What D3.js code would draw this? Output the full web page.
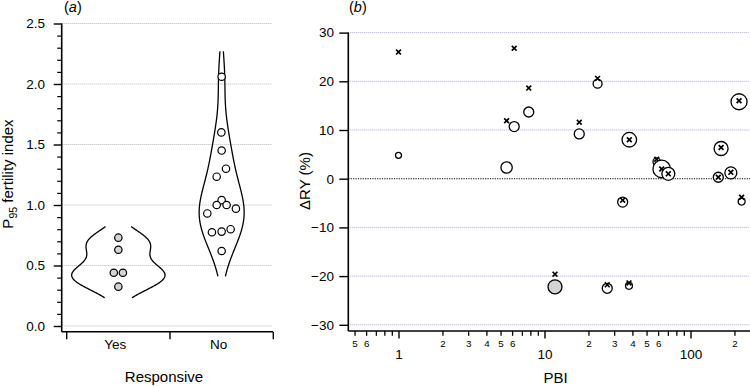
<!DOCTYPE html>
<html><head><meta charset="utf-8">
<script src="https://cdn.jsdelivr.net/npm/d3@7"></script>
<style>
body{margin:0;background:#fff}
svg{display:block}
text{font-family:"Liberation Sans",Arial,Helvetica,sans-serif;fill:#000}
</style>
</head><body><svg id="c" width="750" height="386"></svg>
<script>
// ---------- Panel (a) data ----------
const groups = ["Yes", "No"];
const yesValues = [0.73, 0.63, 0.44, 0.44, 0.325];
const yesJitter = [0, 0, -0.044, 0.044, 0];            // fraction of category width
const noValues = [2.06, 1.60, 1.45, 1.30, 1.234, 1.04, 1.00, 1.00, 0.97, 0.93, 0.80, 0.78, 0.775, 0.62];
const noJitter = [0, -0.003, 0, 0.042, -0.048, 0, -0.048, 0.048, 0.138, -0.139, 0.087, 0, -0.094, 0];
const violinBandwidth = [0.092, 0.21];                 // KDE bandwidth per group
const leftYTicks = [0, 0.5, 1.0, 1.5, 2.0, 2.5];

// ---------- Panel (b) data ----------
const pbi          = [1.0, 5.5, 6.2, 7.8, 11.8, 17.3, 23.1, 26.9, 34.3, 37.9, 38.1, 58.7, 63.5, 70.5, 155, 162, 189, 215, 224];
const dryObserved  = [4.8, 2.3, 10.7, 13.7, -22.2, 9.2, 19.5, -22.5, -4.8, -22.0, 8.0, 3.5, 2.0, 1.0, 0.3, 6.2, 1.2, 15.8, -4.7];
const dryPredicted = [26.0, 11.9, 26.8, 18.6, -19.6, 11.6, 20.6, -21.8, -4.4, -21.4, 8.0, 4.0, 2.0, 1.0, 0.3, 6.4, 1.3, 16.0, -3.8];
const weight       = [9, 32, 25, 25, 49, 25, 20, 25, 25, 12, 53, 14, 77, 42, 25, 49, 36, 64, 12];
const isResponsive = [0, 0, 0, 0, 1, 0, 0, 0, 0, 0, 0, 0, 0, 0, 0, 0, 0, 0, 0];
const rightYTicks = [-30, -20, -10, 0, 10, 20, 30];
const majorX = [1, 10, 100];
const minorX = [0.5, 0.6, 0.7, 0.8, 0.9, 2, 3, 4, 5, 6, 7, 8, 9, 20, 30, 40, 50, 60, 70, 80, 90, 200];
const minorLabelled = [2, 3, 4, 5, 6];

const svg = d3.select("#c");
const FONT = 13.5;

// ================= Panel (a) =================
const aLeft = 61.7, aRight = 273, aBottom = 331.7;
const yA = d3.scaleLinear().domain([0, 2.5]).range([326, 23.5]);
const band = d3.scaleBand().domain(groups).range([66.7, 273.3]);
const bw = band.bandwidth();

// gridlines
svg.append("g").selectAll("line").data(leftYTicks).join("line")
  .attr("x1", aLeft).attr("x2", aRight - 1)
  .attr("y1", d => yA(d)).attr("y2", d => yA(d))
  .attr("stroke", "#b8b8b8").attr("stroke-width", 1).attr("stroke-dasharray", "1,1");

// y axis
const yAxA = svg.append("g").attr("transform", `translate(${aLeft},0)`)
  .call(d3.axisLeft(yA).tickValues(leftYTicks).tickSize(8).tickPadding(8.7).tickFormat(d3.format(".1f")));
yAxA.select(".domain").remove();
yAxA.selectAll("line").attr("stroke-width", 1.4);
yAxA.selectAll("text").attr("font-size", FONT).attr("font-family", "Liberation Sans, Arial, sans-serif");
const minorA = d3.range(0, 26).map(i => i / 10).filter(v => Math.abs(v * 2 - Math.round(v * 2)) > 1e-6);
const yAxAm = svg.append("g").attr("transform", `translate(${aLeft},0)`)
  .call(d3.axisLeft(yA).tickValues(minorA).tickSize(4.5).tickFormat(""));
yAxAm.select(".domain").remove();
yAxAm.selectAll("line").attr("stroke-width", 1.2);

svg.append("line").attr("x1", aLeft).attr("x2", aLeft).attr("y1", yA(2.5)).attr("y2", aBottom)
  .attr("stroke", "#000").attr("stroke-width", 1.6);
svg.append("line").attr("x1", aLeft).attr("x2", aRight).attr("y1", aBottom).attr("y2", aBottom)
  .attr("stroke", "#000").attr("stroke-width", 1.6);

// x ticks at category boundaries, labels at centers
const boundaries = groups.map(g => band(g)).concat([band.range()[1]]);
svg.append("g").selectAll("line").data(boundaries).join("line")
  .attr("x1", d => d).attr("x2", d => d).attr("y1", aBottom).attr("y2", aBottom + 7.5)
  .attr("stroke", "#000").attr("stroke-width", 1.4);
svg.append("g").selectAll("text").data(groups).join("text")
  .attr("x", d => band(d) + bw / 2 - 3).attr("y", 349.3)
  .attr("text-anchor", "middle").attr("font-size", FONT).text(d => d);

// violins (Gaussian KDE, cut at 1 bandwidth beyond the data)
function kde(vals, h) {
  const lo = d3.min(vals) - h, hi = d3.max(vals) + h;
  const n = 160;
  return d3.range(n + 1).map(i => {
    const v = lo + (hi - lo) * i / n;
    const dens = d3.mean(vals, xi => Math.exp(-0.5 * ((v - xi) / h) ** 2) / Math.sqrt(2 * Math.PI)) / h;
    return [v, dens];
  });
}
const groupVals = {Yes: yesValues, No: noValues};
const groupJit = {Yes: yesJitter, No: noJitter};
const dens = {Yes: kde(yesValues, violinBandwidth[0]), No: kde(noValues, violinBandwidth[1])};
const maxD = d3.max(groups, g => d3.max(dens[g], d => d[1]));
const wScale = d3.scaleLinear().domain([0, maxD]).range([0, 0.452 * bw]);

groups.forEach(g => {
  const cx = band(g) + bw / 2;
  [-1, 1].forEach(side => {
    const line = d3.line().x(d => cx + side * wScale(d[1])).y(d => yA(d[0])).curve(d3.curveBasis);
    svg.append("path").attr("d", line(dens[g])).attr("fill", "none")
      .attr("stroke", "#000").attr("stroke-width", 1.3);
  });
  svg.append("g").selectAll("circle").data(groupVals[g]).join("circle")
    .attr("cx", (d, i) => cx + groupJit[g][i] * bw)
    .attr("cy", d => yA(d)).attr("r", 3.7)
    .attr("fill", g === "Yes" ? "#d4d4d4" : "#fff")
    .attr("stroke", "#000").attr("stroke-width", 1.2);
});

// labels
const ta = svg.append("text").attr("x", 64).attr("y", 11.5).attr("font-size", 14.5);
ta.append("tspan").text("(");
ta.append("tspan").attr("font-style", "italic").text("a");
ta.append("tspan").text(")");

const ytA = svg.append("text").attr("transform", "translate(13,174) rotate(-90)")
  .attr("text-anchor", "middle").attr("font-size", 15);
ytA.append("tspan").text("P");
ytA.append("tspan").attr("font-size", 10.5).attr("dy", 3.5).text("95");
ytA.append("tspan").attr("dy", -3.5).text(" fertility index");

svg.append("text").attr("x", 164).attr("y", 382).attr("text-anchor", "middle")
  .attr("font-size", 15).text("Responsive");

// ================= Panel (b) =================
const bLeft = 348.3, bRight = 752, bBottom = 331;
const xB = d3.scaleLog().domain([1, 100]).range([398.5, 690.5]);
const yB = d3.scaleLinear().domain([-30, 30]).range([324.8, 32.6]);
const rScale = d3.scaleSqrt().domain([0, 100]).range([0, 10]);

svg.append("g").selectAll("line").data(rightYTicks).join("line")
  .attr("x1", bLeft).attr("x2", bRight)
  .attr("y1", d => yB(d)).attr("y2", d => yB(d))
  .attr("stroke", d => d === 0 ? "#000" : "#a4a8e0")
  .attr("stroke-width", d => d === 0 ? 1.1 : 1)
  .attr("stroke-dasharray", d => d === 0 ? "1.2,1.2" : "1,1");

const yAxB = svg.append("g").attr("transform", `translate(${bLeft},0)`)
  .call(d3.axisLeft(yB).tickValues(rightYTicks).tickSize(9).tickPadding(5.3).tickFormat(d3.format("d")));
yAxB.select(".domain").remove();
yAxB.selectAll("line").attr("stroke-width", 1.4);
yAxB.selectAll("text").attr("font-size", FONT).attr("font-family", "Liberation Sans, Arial, sans-serif");

svg.append("line").attr("x1", bLeft).attr("x2", bLeft).attr("y1", yB(30)).attr("y2", bBottom)
  .attr("stroke", "#000").attr("stroke-width", 1.6);
svg.append("line").attr("x1", bLeft).attr("x2", bRight).attr("y1", bBottom).attr("y2", bBottom)
  .attr("stroke", "#000").attr("stroke-width", 1.6);

const xAxMaj = svg.append("g").attr("transform", `translate(0,${bBottom})`)
  .call(d3.axisBottom(xB).tickValues(majorX).tickSize(7.5).tickPadding(11.4).tickFormat(d3.format("d")));
xAxMaj.select(".domain").remove();
xAxMaj.selectAll("line").attr("stroke-width", 1.4);
xAxMaj.selectAll("text").attr("font-size", FONT).attr("font-family", "Liberation Sans, Arial, sans-serif");

const xAxMin = svg.append("g").attr("transform", `translate(0,${bBottom})`)
  .call(d3.axisBottom(xB).tickValues(minorX).tickSize(4.8).tickPadding(4.3)
    .tickFormat(d => {
      const lead = Math.round(d / Math.pow(10, Math.floor(Math.log10(d) + 1e-9)));
      return minorLabelled.includes(lead) ? String(lead) : "";
    }));
xAxMin.select(".domain").remove();
xAxMin.selectAll("line").attr("stroke-width", 1.3);
xAxMin.selectAll("text").attr("font-size", 9.8).attr("font-family", "Liberation Sans, Arial, sans-serif");

// points
const pts = d3.range(pbi.length).sort((a, b) => pbi[a] - pbi[b]);
const crossPath = "M-2.4,-2.4L2.4,2.4M-2.4,2.4L2.4,-2.4";
const pg = svg.append("g");
pts.forEach(i => {
  pg.append("circle").attr("cx", xB(pbi[i])).attr("cy", yB(dryObserved[i]))
    .attr("r", rScale(weight[i]))
    .attr("fill", isResponsive[i] ? "#d4d4d4" : "#fff")
    .attr("stroke", "#000").attr("stroke-width", 1.3);
  pg.append("path").attr("d", crossPath)
    .attr("transform", `translate(${xB(pbi[i])},${yB(dryPredicted[i])})`)
    .attr("fill", "none").attr("stroke", "#000").attr("stroke-width", 1.7);
});

const tb = svg.append("text").attr("x", 349).attr("y", 11.5).attr("font-size", 14.5);
tb.append("tspan").text("(");
tb.append("tspan").attr("font-style", "italic").text("b");
tb.append("tspan").text(")");

svg.append("text").attr("transform", "translate(310,181) rotate(-90)")
  .attr("text-anchor", "middle").attr("font-size", 15).text("ΔRY (%)");

svg.append("text").attr("x", 555.5).attr("y", 383).attr("text-anchor", "middle")
  .attr("font-size", 15).text("PBI");
</script>
</body></html>
